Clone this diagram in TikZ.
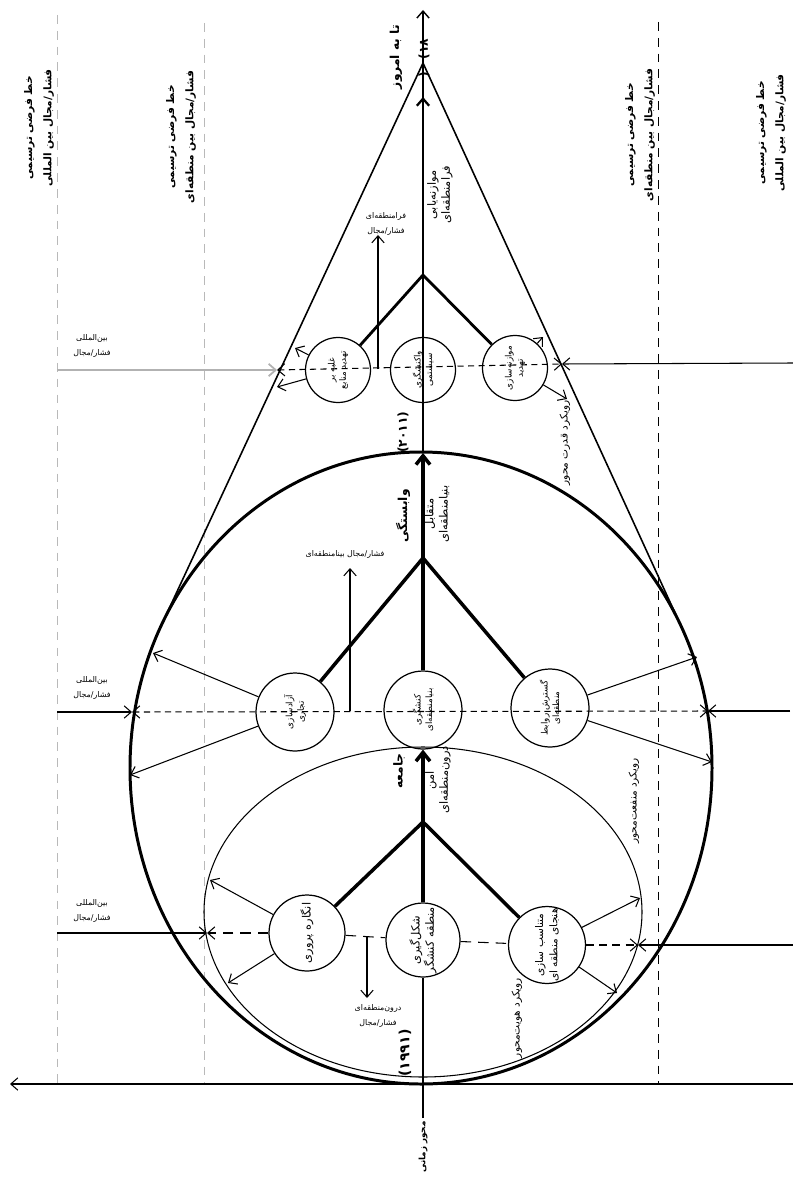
\documentclass[tikz,border=0pt]{standalone}
\usepackage{fontspec}
\newfontfamily\fa[Script=Arabic]{DejaVu Sans}
\TeXXeTstate=1
\usetikzlibrary{arrows.meta}
\newcommand{\rl}[1]{\beginR #1\endR}
\tikzset{
  stage/.style={circle, draw, line width=0.7pt, minimum size=#1, inner sep=0pt,
    rotate=90, align=center, font=\fa\fontsize{5}{6.5}\selectfont},
  axtext/.style={rotate=90, align=center, inner sep=0pt,
    font=\fa\fontsize{6.5}{8}\selectfont},
  guidetext/.style={rotate=90, align=center, inner sep=0pt,
    font=\fa\bfseries\fontsize{6}{11}\selectfont},
  tinytext/.style={align=center, inner sep=0pt,
    font=\fa\fontsize{4.5}{9}\selectfont},
  arr/.style={-{Straight Barb[length=4pt,width=7pt]}, line width=0.6pt},
  darr/.style={arr, dash pattern=on 3.5pt off 2.5pt},
  ddarr/.style={{Straight Barb[length=4pt,width=7pt]}-{Straight Barb[length=4pt,width=7pt]},
    line width=0.6pt, dash pattern=on 3.5pt off 2.5pt},
  longdash/.style={line width=0.6pt, dash pattern=on 6pt off 4pt},
  bold/.style={line width=2pt},
  guide/.style={line width=0.5pt, dash pattern=on 5pt off 4pt}
}
\begin{document}
\begin{tikzpicture}[x=0.02cm, y=-0.02cm]
\useasboundingbox (0,0) rectangle (793,1179);

\node[stage=1.52cm, font=\fa\fontsize{6.5}{8}\selectfont] (g1l) at (307,933) {\rl{انگاره پروری}};
\node[stage=1.48cm, font=\fa\fontsize{6.5}{8}\selectfont] (g1m) at (423,940) {\rl{شکل‌گیری}\\\rl{منطقه کنشگر}};
\node[stage=1.52cm, font=\fa\fontsize{6}{8}\selectfont] (g1r) at (547,945) {\rl{متناسب سازی}\\\rl{هنجای منطقه ای}};
\node[stage=1.56cm] (g2l) at (295,712) {\rl{آزادسازی}\\\rl{تجاری}};
\node[stage=1.56cm] (g2m) at (423,710) {\rl{کنشگری}\\\rl{بنیامنطقه‌ای}};
\node[stage=1.56cm] (g2r) at (550,708) {\rl{گسترش روابط}\\\rl{منطقه‌ای}};
\node[stage=1.3cm] (g3l) at (338,370) {\rl{غلبه بر}\\\rl{تهدید منابع}};
\node[stage=1.3cm] (g3m) at (423,370) {\rl{واکنشگری}\\\rl{سیستمی}};
\node[stage=1.3cm] (g3r) at (515,368) {\rl{موازنه‌سازی}\\\rl{تهدید}};

\coordinate (t0) at (423,1118);
\coordinate (top) at (423,10);
\coordinate (apex) at (423,63);
\coordinate (j1) at (423,822);
\coordinate (j2) at (423,558);
\coordinate (j3) at (423,275);
\coordinate (rim) at (423,453);
\coordinate (a3) at (423,97);
\coordinate (b0) at (793,1084);
\coordinate (b1) at (10,1084);
\coordinate (tl) at (161,626);
\coordinate (tr) at (681,626);

% guides
\draw[guide, gray!55] (57,15) -- (57,1084);
\draw[guide, gray!55] (204,23) -- (204,1084);
\draw[guide] (658,22) -- (658,1084);
\node[guidetext] (gi1) at (39,128) {\rl{خط فرضی ترسیمی}\\\rl{فشار/مجال بین المللی}};
\node[guidetext] (gr1) at (181,137) {\rl{خط فرضی ترسیمی}\\\rl{فشار/مجال بین منطقه‌ای}};
\node[guidetext] (gr2) at (640,135) {\rl{خط فرضی ترسیمی}\\\rl{فشار/مجال بین منطقه‌ای}};
\node[guidetext] (gi2) at (771,133) {\rl{خط فرضی ترسیمی}\\\rl{فشار/مجال بین المللی}};

% envelopes
\draw[line width=1.7pt] (421,768) ellipse [x radius=291, y radius=316];
\draw[line width=0.6pt] (423,912) ellipse [x radius=219, y radius=165];
\draw[line width=0.9pt] (tl) -- (apex) -- (tr);

% axes
\draw[arr] (b0) -- (b1);
\draw[line width=0.7pt] (t0) -- (g1m);
\draw[bold] (g1m) -- (j1);
\draw[bold, -{Straight Barb[length=5pt,width=8pt]}] (j1) -- (g2m);
\draw[bold] (g2m) -- (j2);
\draw[bold, -{Straight Barb[length=5pt,width=8pt]}] (j2) -- (rim);
\draw[arr, line width=0.8pt] (rim) -- (top);
\draw[line width=1.3pt, -{Straight Barb[length=4pt,width=7pt]}] (j3) -- (a3);
\draw[line width=1.3pt] (g3m) -- (j3);
\foreach \s in {g1l,g1r}{\draw[bold] (\s) -- (j1);}
\foreach \s in {g2l,g2r}{\draw[bold] (\s) -- (j2);}
\foreach \s in {g3l,g3r}{\draw[line width=1.6pt] (\s) -- (j3);}

% group 1
\coordinate (lw1) at (207,933);
\coordinate (rw1) at (638,945);
\coordinate (xw1) at (57,933);
\coordinate (xe1) at (793,945);
\coordinate (v1a) at (367,937);
\coordinate (v1b) at (367,998);
\draw[arr, longdash] (g1l) -- (lw1);
\draw[longdash] (g1l) -- (g1m);
\draw[longdash] (g1m) -- (g1r);
\draw[arr, dash pattern=on 4.5pt off 3pt] (g1r) -- (rw1);
\draw[arr] (xw1) -- (lw1);
\draw[arr] (xe1) -- (rw1);
\draw[arr] (v1a) -- (v1b);
\coordinate (o1a) at (210,880);
\coordinate (o1b) at (228,983);
\coordinate (o1c) at (640,898);
\coordinate (o1d) at (617,993);
\foreach \t in {o1a,o1b}{\draw[arr] (g1l) -- (\t);}
\foreach \t in {o1c,o1d}{\draw[arr] (g1r) -- (\t);}

% group 2
\coordinate (lw2) at (132,712);
\coordinate (rw2) at (708,711);
\coordinate (xw2) at (57,712);
\coordinate (xe2) at (790,711);
\coordinate (v2a) at (350,711);
\coordinate (v2b) at (350,568);
\draw[ddarr] (lw2) -- (rw2);
\draw[arr] (xw2) -- (lw2);
\draw[arr] (xe2) -- (rw2);
\draw[arr] (v2a) -- (v2b);
\coordinate (o2a) at (153,653);
\coordinate (o2b) at (130,775);
\coordinate (o2c) at (697,657);
\coordinate (o2d) at (712,762);
\foreach \t in {o2a,o2b}{\draw[arr] (g2l) -- (\t);}
\foreach \t in {o2c,o2d}{\draw[arr] (g2r) -- (\t);}

% group 3
\coordinate (lw3) at (277,370);
\coordinate (rw3) at (562,364);
\coordinate (xw3) at (57,370);
\coordinate (xe3) at (793,363);
\coordinate (v3a) at (378,369);
\coordinate (v3b) at (378,235);
\draw[ddarr] (lw3) -- (rw3);
\draw[arr, gray!60, line width=1pt] (xw3) -- (lw3);
\draw[arr] (xe3) -- (rw3);
\draw[arr] (v3a) -- (v3b);
\coordinate (o3a) at (295,348);
\coordinate (o3b) at (277,387);
\coordinate (o3c) at (543,337);
\coordinate (o3d) at (567,399);
\foreach \t in {o3a,o3b}{\draw[arr] (g3l) -- (\t);}
\foreach \t in {o3c,o3d}{\draw[arr] (g3r) -- (\t);}

% pressure labels
\node[tinytext] (p1) at (92,911) {\rl{بین‌المللی}\\\rl{فشار/مجال}};
\node[tinytext] (p2) at (92,688) {\rl{بین‌المللی}\\\rl{فشار/مجال}};
\node[tinytext] (p3) at (92,346) {\rl{بین‌المللی}\\\rl{فشار/مجال}};
\node[tinytext] (q1) at (378,1016) {\rl{درون‌منطقه‌ای}\\\rl{فشار/مجال}};
\node[tinytext] (q2) at (345,554) {\rl{فشار/مجال بینامنطقه‌ای}};
\node[tinytext] (q3) at (386,224) {\rl{فرامنطقه‌ای}\\\rl{فشار/مجال}};

% axis labels
\node[axtext, font=\fa\bfseries\fontsize{5}{6}\selectfont] (tz) at (423,1147) {\rl{محور زمانی}};
\node[axtext, font=\fa\bfseries\fontsize{8}{9}\selectfont] (y1) at (405,1053) {(۱۹۹۱)};
\node[axtext, font=\fa\bfseries\fontsize{7}{8}\selectfont] (y2) at (403,432) {(۲۰۱۱)};
\node[axtext, font=\fa\bfseries\fontsize{7}{8}\selectfont] (y3) at (424,58) {(\quad ۱۸)};
\node[axtext, font=\fa\bfseries\fontsize{7}{8}\selectfont] (now) at (396,57) {\rl{تا به امروز}};
\node[axtext, font=\fa\bfseries\fontsize{7}{8}\selectfont] (s1a) at (399,771) {\rl{جامعه}};
\node[axtext] (s1b) at (438,780) {\rl{امن}\\\rl{درون‌منطقه‌ای}};
\node[axtext, font=\fa\bfseries\fontsize{7}{8}\selectfont] (s2a) at (403,516) {\rl{وابستگی}};
\node[axtext] (s2b) at (437,514) {\rl{متقابل}\\\rl{بنیامنطقه‌ای}};
\node[axtext] (s3) at (440,195) {\rl{موازنه‌یابی}\\\rl{فرامنطقه‌ای}};
\node[axtext, font=\fa\fontsize{6}{7}\selectfont] (ap1) at (517,1018) {\rl{رویکرد هویت‌محور}};
\node[axtext, font=\fa\fontsize{6}{7}\selectfont] (ap2) at (634,801) {\rl{رویکرد منفعت‌محور}};
\node[axtext, font=\fa\fontsize{6}{7}\selectfont] (ap3) at (565,443) {\rl{رویکرد قدرت محور}};
\end{tikzpicture}
\end{document}
